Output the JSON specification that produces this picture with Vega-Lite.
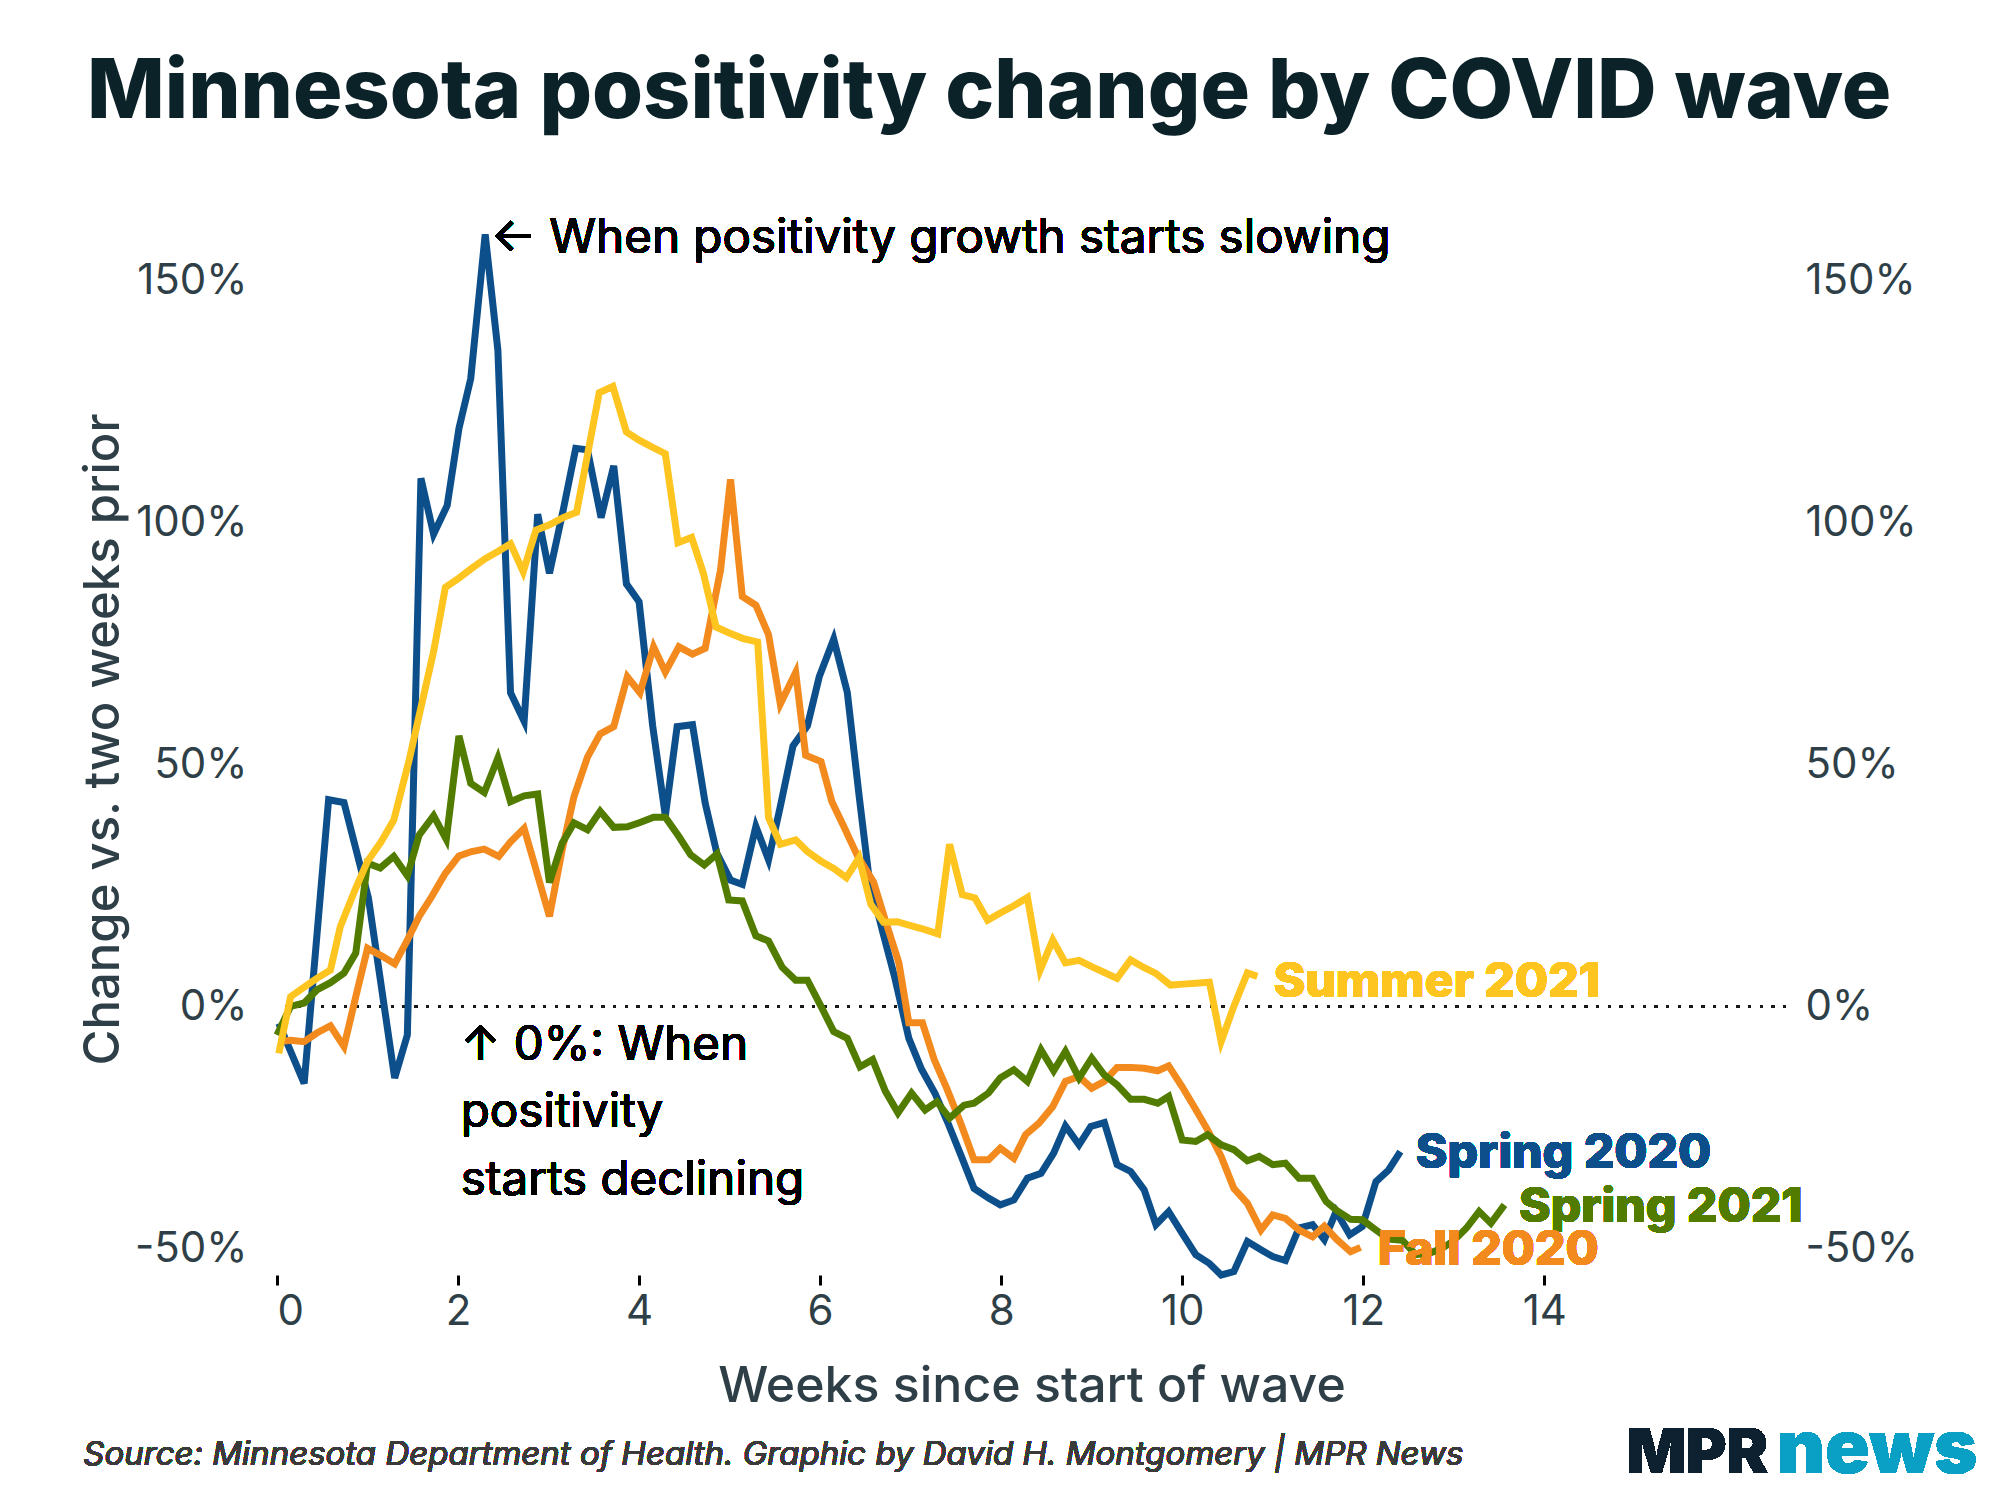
{
  "$schema": "https://vega.github.io/schema/vega-lite/v6.json",
  "width": 1509,
  "height": 1072,
  "autosize": "none",
  "padding": {"left": 277, "top": 203, "right": 214, "bottom": 225},
  "background": "white",
  "config": {"view": {"stroke": null}},
  "title": {"text": "Minnesota positivity change by COVID wave", "anchor": "start", "frame": "group", "dx": -190, "fontSize": 82.5, "font": "Inter", "fontWeight": 800, "color": "#0b2229", "baseline": "alphabetic", "offset": 3},
  "data": {"values": [
    {"series":"Spring 2020","week":0.02,"change":-3.5},{"series":"Spring 2020","week":0.30,"change":-15.9},{"series":"Spring 2020","week":0.57,"change":42.7},{"series":"Spring 2020","week":0.74,"change":42.1},{"series":"Spring 2020","week":1.01,"change":22.4},{"series":"Spring 2020","week":1.30,"change":-14.8},{"series":"Spring 2020","week":1.44,"change":-5.9},{"series":"Spring 2020","week":1.59,"change":109.1},{"series":"Spring 2020","week":1.73,"change":97.6},{"series":"Spring 2020","week":1.88,"change":103.5},{"series":"Spring 2020","week":2.01,"change":119.4},{"series":"Spring 2020","week":2.14,"change":129.7},{"series":"Spring 2020","week":2.30,"change":159.5},{"series":"Spring 2020","week":2.44,"change":135.6},{"series":"Spring 2020","week":2.58,"change":64.8},{"series":"Spring 2020","week":2.73,"change":58.9},{"series":"Spring 2020","week":2.88,"change":101.7},{"series":"Spring 2020","week":3.01,"change":89.5},{"series":"Spring 2020","week":3.16,"change":102.4},{"series":"Spring 2020","week":3.30,"change":115.3},{"series":"Spring 2020","week":3.43,"change":115.0},{"series":"Spring 2020","week":3.58,"change":101.0},{"series":"Spring 2020","week":3.72,"change":111.7},{"series":"Spring 2020","week":3.86,"change":87.3},{"series":"Spring 2020","week":4.00,"change":83.6},{"series":"Spring 2020","week":4.15,"change":58.0},{"series":"Spring 2020","week":4.29,"change":39.4},{"series":"Spring 2020","week":4.42,"change":57.8},{"series":"Spring 2020","week":4.59,"change":58.2},{"series":"Spring 2020","week":4.73,"change":42.0},{"series":"Spring 2020","week":4.86,"change":31.6},{"series":"Spring 2020","week":5.01,"change":26.1},{"series":"Spring 2020","week":5.14,"change":25.2},{"series":"Spring 2020","week":5.29,"change":37.2},{"series":"Spring 2020","week":5.43,"change":30.3},{"series":"Spring 2020","week":5.56,"change":41.3},{"series":"Spring 2020","week":5.70,"change":53.8},{"series":"Spring 2020","week":5.86,"change":58.0},{"series":"Spring 2020","week":5.99,"change":68.1},{"series":"Spring 2020","week":6.15,"change":75.9},{"series":"Spring 2020","week":6.30,"change":64.9},{"series":"Spring 2020","week":6.43,"change":43.6},{"series":"Spring 2020","week":6.54,"change":26.6},{"series":"Spring 2020","week":6.69,"change":15.5},{"series":"Spring 2020","week":6.82,"change":6.3},{"series":"Spring 2020","week":6.98,"change":-6.6},{"series":"Spring 2020","week":7.12,"change":-13.0},{"series":"Spring 2020","week":7.27,"change":-18.0},{"series":"Spring 2020","week":7.41,"change":-24.0},{"series":"Spring 2020","week":7.56,"change":-31.0},{"series":"Spring 2020","week":7.70,"change":-37.6},{"series":"Spring 2020","week":7.86,"change":-39.6},{"series":"Spring 2020","week":7.99,"change":-41.0},{"series":"Spring 2020","week":8.14,"change":-40.0},{"series":"Spring 2020","week":8.29,"change":-35.5},{"series":"Spring 2020","week":8.44,"change":-34.5},{"series":"Spring 2020","week":8.58,"change":-30.3},{"series":"Spring 2020","week":8.71,"change":-24.7},{"series":"Spring 2020","week":8.86,"change":-28.6},{"series":"Spring 2020","week":8.99,"change":-24.8},{"series":"Spring 2020","week":9.14,"change":-24.0},{"series":"Spring 2020","week":9.28,"change":-32.7},{"series":"Spring 2020","week":9.43,"change":-34.1},{"series":"Spring 2020","week":9.58,"change":-37.9},{"series":"Spring 2020","week":9.71,"change":-45.1},{"series":"Spring 2020","week":9.85,"change":-42.4},{"series":"Spring 2020","week":10.00,"change":-46.9},{"series":"Spring 2020","week":10.15,"change":-51.3},{"series":"Spring 2020","week":10.30,"change":-53.1},{"series":"Spring 2020","week":10.43,"change":-55.5},{"series":"Spring 2020","week":10.57,"change":-54.8},{"series":"Spring 2020","week":10.72,"change":-48.6},{"series":"Spring 2020","week":10.87,"change":-50.3},{"series":"Spring 2020","week":11.00,"change":-51.7},{"series":"Spring 2020","week":11.14,"change":-52.5},{"series":"Spring 2020","week":11.29,"change":-45.8},{"series":"Spring 2020","week":11.44,"change":-45.1},{"series":"Spring 2020","week":11.57,"change":-48.2},{"series":"Spring 2020","week":11.70,"change":-42.4},{"series":"Spring 2020","week":11.85,"change":-47.2},{"series":"Spring 2020","week":11.99,"change":-45.5},{"series":"Spring 2020","week":12.14,"change":-36.2},{"series":"Spring 2020","week":12.28,"change":-33.8},{"series":"Spring 2020","week":12.41,"change":-30.0},
    {"series":"Fall 2020","week":0.02,"change":-7.3},{"series":"Fall 2020","week":0.15,"change":-7.0},{"series":"Fall 2020","week":0.30,"change":-7.3},{"series":"Fall 2020","week":0.44,"change":-5.5},{"series":"Fall 2020","week":0.59,"change":-4.0},{"series":"Fall 2020","week":0.74,"change":-8.3},{"series":"Fall 2020","week":0.87,"change":2.0},{"series":"Fall 2020","week":1.00,"change":12.0},{"series":"Fall 2020","week":1.15,"change":10.5},{"series":"Fall 2020","week":1.30,"change":8.8},{"series":"Fall 2020","week":1.44,"change":13.7},{"series":"Fall 2020","week":1.57,"change":18.6},{"series":"Fall 2020","week":1.71,"change":22.7},{"series":"Fall 2020","week":1.86,"change":27.5},{"series":"Fall 2020","week":2.01,"change":31.1},{"series":"Fall 2020","week":2.15,"change":32.0},{"series":"Fall 2020","week":2.29,"change":32.5},{"series":"Fall 2020","week":2.45,"change":31.0},{"series":"Fall 2020","week":2.58,"change":34.0},{"series":"Fall 2020","week":2.73,"change":36.8},{"series":"Fall 2020","week":3.01,"change":18.6},{"series":"Fall 2020","week":3.15,"change":32.3},{"series":"Fall 2020","week":3.28,"change":43.3},{"series":"Fall 2020","week":3.43,"change":51.5},{"series":"Fall 2020","week":3.57,"change":56.3},{"series":"Fall 2020","week":3.72,"change":57.8},{"series":"Fall 2020","week":3.87,"change":68.1},{"series":"Fall 2020","week":4.01,"change":64.8},{"series":"Fall 2020","week":4.16,"change":74.3},{"series":"Fall 2020","week":4.29,"change":69.1},{"series":"Fall 2020","week":4.44,"change":74.3},{"series":"Fall 2020","week":4.59,"change":72.8},{"series":"Fall 2020","week":4.73,"change":74.0},{"series":"Fall 2020","week":4.90,"change":90.2},{"series":"Fall 2020","week":5.01,"change":108.9},{"series":"Fall 2020","week":5.14,"change":84.7},{"series":"Fall 2020","week":5.29,"change":82.9},{"series":"Fall 2020","week":5.43,"change":76.8},{"series":"Fall 2020","week":5.56,"change":62.5},{"series":"Fall 2020","week":5.73,"change":69.0},{"series":"Fall 2020","week":5.84,"change":51.9},{"series":"Fall 2020","week":6.01,"change":50.6},{"series":"Fall 2020","week":6.13,"change":42.3},{"series":"Fall 2020","week":6.26,"change":37.2},{"series":"Fall 2020","week":6.41,"change":31.2},{"series":"Fall 2020","week":6.59,"change":25.7},{"series":"Fall 2020","week":6.72,"change":17.8},{"series":"Fall 2020","week":6.87,"change":9.0},{"series":"Fall 2020","week":6.98,"change":-3.4},{"series":"Fall 2020","week":7.13,"change":-3.4},{"series":"Fall 2020","week":7.26,"change":-11.0},{"series":"Fall 2020","week":7.40,"change":-17.0},{"series":"Fall 2020","week":7.55,"change":-24.0},{"series":"Fall 2020","week":7.70,"change":-31.7},{"series":"Fall 2020","week":7.86,"change":-31.7},{"series":"Fall 2020","week":7.99,"change":-29.3},{"series":"Fall 2020","week":8.14,"change":-31.4},{"series":"Fall 2020","week":8.27,"change":-26.5},{"series":"Fall 2020","week":8.42,"change":-24.1},{"series":"Fall 2020","week":8.57,"change":-20.7},{"series":"Fall 2020","week":8.71,"change":-15.5},{"series":"Fall 2020","week":8.86,"change":-14.5},{"series":"Fall 2020","week":9.00,"change":-16.9},{"series":"Fall 2020","week":9.14,"change":-15.5},{"series":"Fall 2020","week":9.28,"change":-12.6},{"series":"Fall 2020","week":9.43,"change":-12.6},{"series":"Fall 2020","week":9.58,"change":-12.8},{"series":"Fall 2020","week":9.73,"change":-13.3},{"series":"Fall 2020","week":9.85,"change":-12.3},{"series":"Fall 2020","week":10.00,"change":-16.6},{"series":"Fall 2020","week":10.14,"change":-21.0},{"series":"Fall 2020","week":10.28,"change":-25.5},{"series":"Fall 2020","week":10.43,"change":-31.0},{"series":"Fall 2020","week":10.57,"change":-37.6},{"series":"Fall 2020","week":10.72,"change":-40.7},{"series":"Fall 2020","week":10.87,"change":-46.2},{"series":"Fall 2020","week":11.00,"change":-43.1},{"series":"Fall 2020","week":11.14,"change":-43.8},{"series":"Fall 2020","week":11.29,"change":-46.2},{"series":"Fall 2020","week":11.44,"change":-47.6},{"series":"Fall 2020","week":11.57,"change":-45.4},{"series":"Fall 2020","week":11.71,"change":-48.2},{"series":"Fall 2020","week":11.86,"change":-50.7},{"series":"Fall 2020","week":11.97,"change":-49.8},
    {"series":"Spring 2021","week":0.00,"change":-5.9},{"series":"Spring 2021","week":0.15,"change":0.0},{"series":"Spring 2021","week":0.30,"change":0.7},{"series":"Spring 2021","week":0.44,"change":3.4},{"series":"Spring 2021","week":0.59,"change":4.9},{"series":"Spring 2021","week":0.74,"change":6.9},{"series":"Spring 2021","week":0.87,"change":11.0},{"series":"Spring 2021","week":1.00,"change":29.6},{"series":"Spring 2021","week":1.14,"change":28.6},{"series":"Spring 2021","week":1.29,"change":31.0},{"series":"Spring 2021","week":1.44,"change":27.0},{"series":"Spring 2021","week":1.57,"change":35.4},{"series":"Spring 2021","week":1.73,"change":39.4},{"series":"Spring 2021","week":1.87,"change":34.5},{"series":"Spring 2021","week":2.01,"change":55.9},{"series":"Spring 2021","week":2.14,"change":46.1},{"series":"Spring 2021","week":2.29,"change":44.2},{"series":"Spring 2021","week":2.44,"change":51.3},{"series":"Spring 2021","week":2.58,"change":42.3},{"series":"Spring 2021","week":2.73,"change":43.5},{"series":"Spring 2021","week":2.88,"change":43.9},{"series":"Spring 2021","week":3.01,"change":25.6},{"series":"Spring 2021","week":3.15,"change":33.7},{"series":"Spring 2021","week":3.28,"change":37.9},{"series":"Spring 2021","week":3.43,"change":36.5},{"series":"Spring 2021","week":3.57,"change":40.3},{"series":"Spring 2021","week":3.72,"change":37.0},{"series":"Spring 2021","week":3.87,"change":37.1},{"series":"Spring 2021","week":4.01,"change":38.0},{"series":"Spring 2021","week":4.16,"change":39.1},{"series":"Spring 2021","week":4.29,"change":39.1},{"series":"Spring 2021","week":4.44,"change":35.1},{"series":"Spring 2021","week":4.57,"change":31.3},{"series":"Spring 2021","week":4.72,"change":29.2},{"series":"Spring 2021","week":4.86,"change":31.5},{"series":"Spring 2021","week":4.99,"change":22.0},{"series":"Spring 2021","week":5.14,"change":21.8},{"series":"Spring 2021","week":5.29,"change":14.6},{"series":"Spring 2021","week":5.43,"change":13.5},{"series":"Spring 2021","week":5.58,"change":8.1},{"series":"Spring 2021","week":5.73,"change":5.4},{"series":"Spring 2021","week":5.86,"change":5.4},{"series":"Spring 2021","week":6.01,"change":0.0},{"series":"Spring 2021","week":6.15,"change":-5.2},{"series":"Spring 2021","week":6.30,"change":-6.6},{"series":"Spring 2021","week":6.44,"change":-12.5},{"series":"Spring 2021","week":6.58,"change":-11.0},{"series":"Spring 2021","week":6.72,"change":-17.5},{"series":"Spring 2021","week":6.86,"change":-22.0},{"series":"Spring 2021","week":7.01,"change":-17.9},{"series":"Spring 2021","week":7.16,"change":-21.4},{"series":"Spring 2021","week":7.29,"change":-19.7},{"series":"Spring 2021","week":7.43,"change":-23.1},{"series":"Spring 2021","week":7.59,"change":-20.4},{"series":"Spring 2021","week":7.70,"change":-20.0},{"series":"Spring 2021","week":7.86,"change":-17.9},{"series":"Spring 2021","week":7.99,"change":-14.8},{"series":"Spring 2021","week":8.14,"change":-13.1},{"series":"Spring 2021","week":8.29,"change":-15.5},{"series":"Spring 2021","week":8.44,"change":-9.0},{"series":"Spring 2021","week":8.58,"change":-13.3},{"series":"Spring 2021","week":8.71,"change":-9.3},{"series":"Spring 2021","week":8.86,"change":-14.8},{"series":"Spring 2021","week":9.00,"change":-10.7},{"series":"Spring 2021","week":9.14,"change":-14.2},{"series":"Spring 2021","week":9.28,"change":-16.2},{"series":"Spring 2021","week":9.43,"change":-19.2},{"series":"Spring 2021","week":9.58,"change":-19.2},{"series":"Spring 2021","week":9.73,"change":-20.0},{"series":"Spring 2021","week":9.85,"change":-18.6},{"series":"Spring 2021","week":10.00,"change":-27.6},{"series":"Spring 2021","week":10.15,"change":-27.9},{"series":"Spring 2021","week":10.28,"change":-26.5},{"series":"Spring 2021","week":10.43,"change":-28.6},{"series":"Spring 2021","week":10.57,"change":-29.6},{"series":"Spring 2021","week":10.72,"change":-31.9},{"series":"Spring 2021","week":10.85,"change":-31.0},{"series":"Spring 2021","week":11.00,"change":-32.7},{"series":"Spring 2021","week":11.14,"change":-32.4},{"series":"Spring 2021","week":11.29,"change":-35.5},{"series":"Spring 2021","week":11.44,"change":-35.5},{"series":"Spring 2021","week":11.59,"change":-40.3},{"series":"Spring 2021","week":11.71,"change":-42.2},{"series":"Spring 2021","week":11.86,"change":-44.0},{"series":"Spring 2021","week":11.99,"change":-44.1},{"series":"Spring 2021","week":12.14,"change":-46.2},{"series":"Spring 2021","week":12.28,"change":-48.1},{"series":"Spring 2021","week":12.43,"change":-48.3},{"series":"Spring 2021","week":12.58,"change":-51.3},{"series":"Spring 2021","week":12.73,"change":-51.0},{"series":"Spring 2021","week":12.87,"change":-50.0},{"series":"Spring 2021","week":13.00,"change":-48.4},{"series":"Spring 2021","week":13.14,"change":-45.8},{"series":"Spring 2021","week":13.28,"change":-42.4},{"series":"Spring 2021","week":13.41,"change":-44.8},{"series":"Spring 2021","week":13.56,"change":-41.0},
    {"series":"Summer 2021","week":0.02,"change":-9.7},{"series":"Summer 2021","week":0.15,"change":2.0},{"series":"Summer 2021","week":0.30,"change":4.0},{"series":"Summer 2021","week":0.44,"change":5.8},{"series":"Summer 2021","week":0.59,"change":7.5},{"series":"Summer 2021","week":0.70,"change":16.5},{"series":"Summer 2021","week":0.86,"change":24.0},{"series":"Summer 2021","week":1.00,"change":30.0},{"series":"Summer 2021","week":1.15,"change":34.0},{"series":"Summer 2021","week":1.29,"change":38.5},{"series":"Summer 2021","week":1.46,"change":50.9},{"series":"Summer 2021","week":1.60,"change":62.6},{"series":"Summer 2021","week":1.73,"change":73.3},{"series":"Summer 2021","week":1.86,"change":86.6},{"series":"Summer 2021","week":2.01,"change":88.5},{"series":"Summer 2021","week":2.15,"change":90.5},{"series":"Summer 2021","week":2.30,"change":92.5},{"series":"Summer 2021","week":2.44,"change":94.0},{"series":"Summer 2021","week":2.58,"change":95.6},{"series":"Summer 2021","week":2.72,"change":89.8},{"series":"Summer 2021","week":2.86,"change":98.4},{"series":"Summer 2021","week":3.01,"change":99.5},{"series":"Summer 2021","week":3.16,"change":101.0},{"series":"Summer 2021","week":3.31,"change":102.1},{"series":"Summer 2021","week":3.56,"change":126.8},{"series":"Summer 2021","week":3.71,"change":128.1},{"series":"Summer 2021","week":3.86,"change":118.7},{"series":"Summer 2021","week":4.00,"change":117.0},{"series":"Summer 2021","week":4.15,"change":115.5},{"series":"Summer 2021","week":4.29,"change":114.2},{"series":"Summer 2021","week":4.43,"change":95.8},{"series":"Summer 2021","week":4.58,"change":96.9},{"series":"Summer 2021","week":4.71,"change":89.5},{"series":"Summer 2021","week":4.85,"change":78.4},{"series":"Summer 2021","week":4.99,"change":77.2},{"series":"Summer 2021","week":5.15,"change":76.0},{"series":"Summer 2021","week":5.31,"change":75.3},{"series":"Summer 2021","week":5.43,"change":39.0},{"series":"Summer 2021","week":5.56,"change":33.5},{"series":"Summer 2021","week":5.73,"change":34.4},{"series":"Summer 2021","week":5.86,"change":32.0},{"series":"Summer 2021","week":6.01,"change":30.0},{"series":"Summer 2021","week":6.15,"change":28.5},{"series":"Summer 2021","week":6.29,"change":26.6},{"series":"Summer 2021","week":6.43,"change":30.7},{"series":"Summer 2021","week":6.56,"change":21.1},{"series":"Summer 2021","week":6.70,"change":17.4},{"series":"Summer 2021","week":6.85,"change":17.5},{"series":"Summer 2021","week":7.00,"change":16.7},{"series":"Summer 2021","week":7.15,"change":15.9},{"series":"Summer 2021","week":7.30,"change":15.0},{"series":"Summer 2021","week":7.43,"change":33.5},{"series":"Summer 2021","week":7.57,"change":23.1},{"series":"Summer 2021","week":7.71,"change":22.4},{"series":"Summer 2021","week":7.85,"change":17.8},{"series":"Summer 2021","week":7.99,"change":19.3},{"series":"Summer 2021","week":8.14,"change":20.8},{"series":"Summer 2021","week":8.29,"change":22.5},{"series":"Summer 2021","week":8.43,"change":7.5},{"series":"Summer 2021","week":8.57,"change":13.7},{"series":"Summer 2021","week":8.71,"change":9.0},{"series":"Summer 2021","week":8.86,"change":9.5},{"series":"Summer 2021","week":9.00,"change":8.2},{"series":"Summer 2021","week":9.14,"change":7.0},{"series":"Summer 2021","week":9.28,"change":5.8},{"series":"Summer 2021","week":9.43,"change":9.6},{"series":"Summer 2021","week":9.58,"change":8.0},{"series":"Summer 2021","week":9.71,"change":6.8},{"series":"Summer 2021","week":9.87,"change":4.4},{"series":"Summer 2021","week":10.01,"change":4.6},{"series":"Summer 2021","week":10.15,"change":4.8},{"series":"Summer 2021","week":10.30,"change":5.0},{"series":"Summer 2021","week":10.43,"change":-7.3},{"series":"Summer 2021","week":10.57,"change":0.0},{"series":"Summer 2021","week":10.72,"change":6.9},{"series":"Summer 2021","week":10.83,"change":6.2}
  ]},
  "resolve": {"axis": {"y": "independent"}},
  "layer": [
    {
      "mark": {"type": "rule", "color": "#1a1a1a", "strokeWidth": 2.5, "strokeDash": [2.5, 9.2]},
      "encoding": {
        "y": {"datum": 0, "type": "quantitative", "scale": {"domain": [-55.5, 166], "nice": false, "zero": false},
          "axis": {"orient": "right", "values": [-50, 0, 50, 100, 150], "labelExpr": "datum.value + '%'", "labelFont": "Inter", "labelFontSize": 42, "labelColor": "#2f3f47", "labelPadding": 19, "ticks": false, "domain": false, "grid": false, "title": null}}
      }
    },
    {
      "mark": {"type": "line", "strokeWidth": 7, "clip": false},
      "encoding": {
        "x": {"field": "week", "type": "quantitative", "scale": {"domain": [0, 16.67], "nice": false, "zero": false},
          "axis": {"orient": "bottom", "values": [0, 2, 4, 6, 8, 10, 12, 14], "format": "d", "labelFont": "Inter", "labelFontSize": 42, "labelColor": "#2f3f47", "labelPadding": 6, "labelFlush": true, "ticks": true, "tickSize": 10, "tickWidth": 3, "tickColor": "#000000", "tickOpacity": 1, "domain": false, "grid": false, "title": "Weeks since start of wave", "titleFont": "Inter", "titleFontSize": 50, "titleFontWeight": 500, "titleColor": "#2f3f47", "titlePadding": 29}},
        "y": {"field": "change", "type": "quantitative", "scale": {"domain": [-55.5, 166], "nice": false, "zero": false},
          "axis": {"orient": "left", "values": [-50, 0, 50, 100, 150], "labelExpr": "datum.value + '%'", "labelFont": "Inter", "labelFontSize": 42, "labelColor": "#2f3f47", "labelPadding": 30, "ticks": false, "domain": false, "grid": false, "title": "Change vs. two weeks prior", "titleFont": "Inter", "titleFontSize": 49, "titleFontWeight": 500, "titleColor": "#2f3f47", "titlePadding": 6}},
        "color": {"field": "series", "type": "nominal", "scale": {"domain": ["Spring 2020", "Fall 2020", "Spring 2021", "Summer 2021"], "range": ["#0d4f8b", "#f28a1e", "#517c00", "#fec41f"]}, "legend": null}
      }
    },
    {
      "mark": {"type": "text", "text": "Summer 2021", "font": "Inter", "fontSize": 48, "fontWeight": 800, "color": "#fec41f", "align": "left", "baseline": "alphabetic"},
      "encoding": {"x": {"datum": 11.01, "type": "quantitative"}, "y": {"datum": 2.0, "type": "quantitative", "axis": null}}
    },
    {
      "mark": {"type": "text", "text": "Spring 2020", "font": "Inter", "fontSize": 48, "fontWeight": 800, "color": "#0d4f8b", "align": "left", "baseline": "alphabetic"},
      "encoding": {"x": {"datum": 12.58, "type": "quantitative"}, "y": {"datum": -33.4, "type": "quantitative", "axis": null}}
    },
    {
      "mark": {"type": "text", "text": "Spring 2021", "font": "Inter", "fontSize": 48, "fontWeight": 800, "color": "#517c00", "align": "left", "baseline": "alphabetic"},
      "encoding": {"x": {"datum": 13.72, "type": "quantitative"}, "y": {"datum": -44.5, "type": "quantitative", "axis": null}}
    },
    {
      "mark": {"type": "text", "text": "Fall 2020", "font": "Inter", "fontSize": 48, "fontWeight": 800, "color": "#f28a1e", "align": "left", "baseline": "alphabetic"},
      "encoding": {"x": {"datum": 12.16, "type": "quantitative"}, "y": {"datum": -53.4, "type": "quantitative", "axis": null}}
    },
    {
      "mark": {"type": "text", "text": "← When positivity growth starts slowing", "font": "Inter", "fontSize": 47.5, "fontWeight": 400, "color": "#000000", "align": "left", "baseline": "alphabetic"},
      "encoding": {"x": {"datum": 2.36, "type": "quantitative"}, "y": {"datum": 155.6, "type": "quantitative", "axis": null}}
    },
    {
      "mark": {"type": "text", "text": ["↑ 0%: When", "positivity", "starts declining"], "font": "Inter", "fontSize": 47.5, "fontWeight": 400, "color": "#000000", "align": "left", "baseline": "alphabetic", "lineHeight": 67.5},
      "encoding": {"x": {"datum": 2.03, "type": "quantitative"}, "y": {"datum": -11.05, "type": "quantitative", "axis": null}}
    },
    {
      "mark": {"type": "text", "text": "Source: Minnesota Department of Health. Graphic by David H. Montgomery | MPR News", "font": "Inter", "fontSize": 33, "fontStyle": "italic", "color": "#3a3a3a", "align": "left", "baseline": "alphabetic"},
      "encoding": {"x": {"datum": -2.14, "type": "quantitative"}, "y": {"datum": -94.7, "type": "quantitative", "axis": null}}
    },
    {
      "mark": {"type": "text", "text": "MPR", "font": "Inter", "fontSize": 62, "fontWeight": 900, "color": "#0d2130", "align": "left", "baseline": "alphabetic"},
      "encoding": {"x": {"datum": 14.91, "type": "quantitative"}, "y": {"datum": -96.4, "type": "quantitative", "axis": null}}
    },
    {
      "mark": {"type": "text", "text": "news", "font": "Inter", "fontSize": 74, "fontWeight": 900, "color": "#0a9fc4", "align": "left", "baseline": "alphabetic"},
      "encoding": {"x": {"datum": 16.57, "type": "quantitative"}, "y": {"datum": -96.4, "type": "quantitative", "axis": null}}
    }
  ]
}
